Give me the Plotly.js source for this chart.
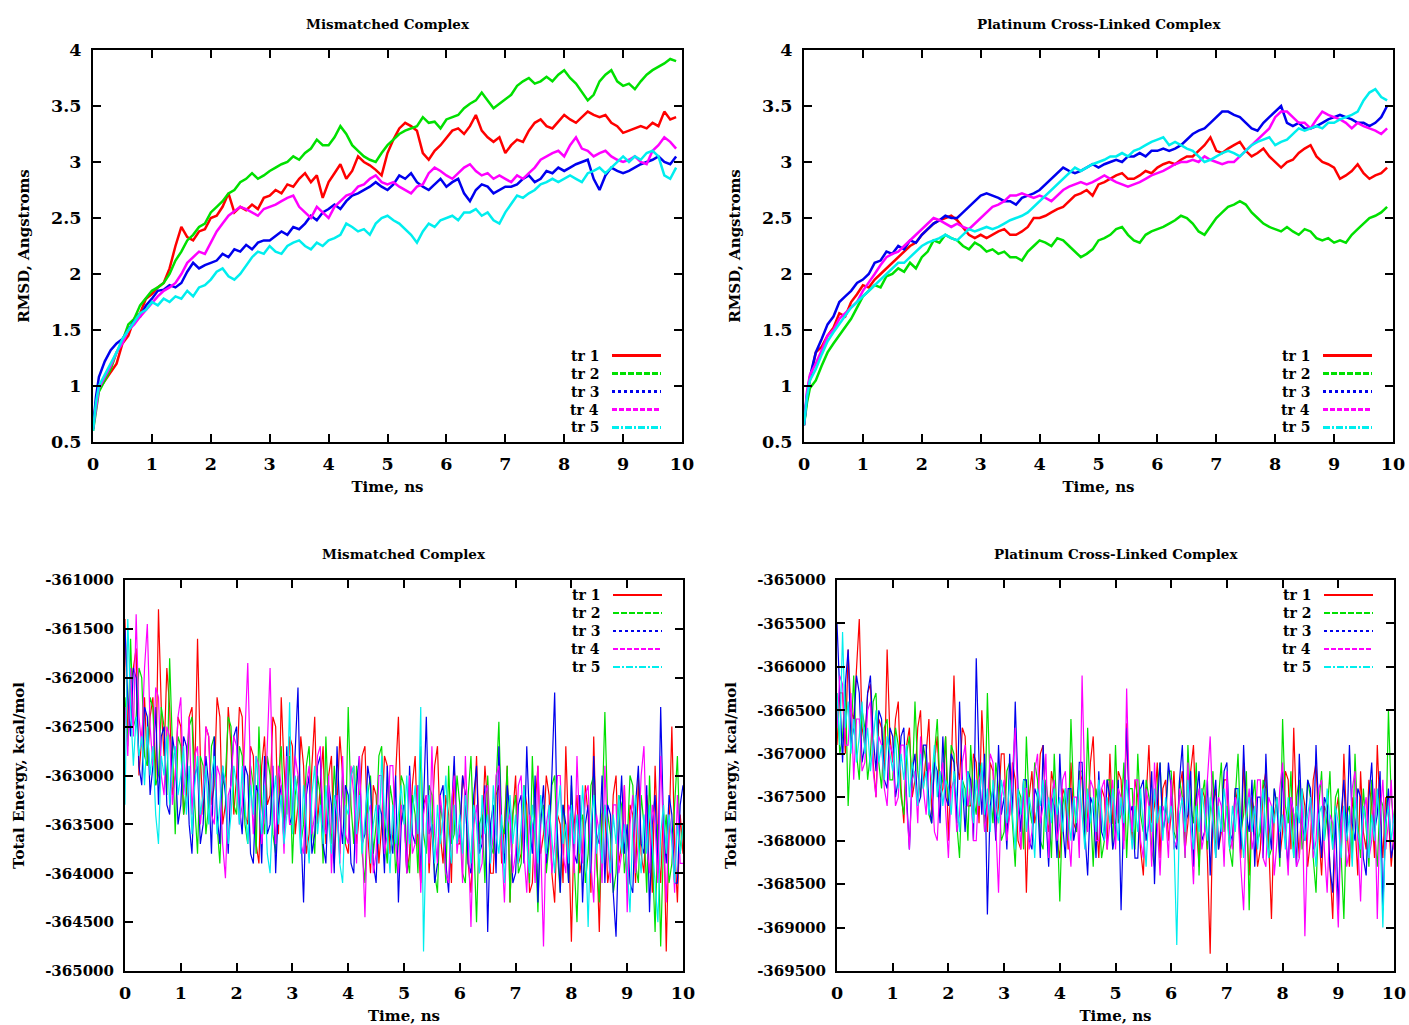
<!DOCTYPE html>
<html>
<head>
<meta charset="utf-8">
<script src="https://cdn.plot.ly/plotly-3.0.1.min.js"></script>
<style>html,body{margin:0;padding:0;background:#fff;}#chart{width:1409px;height:1025px;}</style>
</head>
<body>
<div id="chart"></div>
<script>
// ---------------- DATA ----------------
const SERIES_NAMES = ["tr 1", "tr 2", "tr 3", "tr 4", "tr 5"];
const PANEL_TITLES = ["Mismatched Complex", "Platinum Cross-Linked Complex", "Mismatched Complex", "Platinum Cross-Linked Complex"];
const X_TITLE = "Time, ns";
const Y_TITLE_RMSD = "RMSD, Angstroms";
const Y_TITLE_ENERGY = "Total Energy, kcal/mol";

const X_TICKS = [0,1,2,3,4,5,6,7,8,9,10];
const RMSD_TICKS = [0.5,1,1.5,2,2.5,3,3.5,4];
const ENERGY_TICKS_MISMATCHED = [-365000,-364500,-364000,-363500,-363000,-362500,-362000,-361500,-361000];
const ENERGY_TICKS_PLATINUM = [-369500,-369000,-368500,-368000,-367500,-367000,-366500,-366000,-365500,-365000];

const TIME_RMSD = [0,0.05,
0.1,0.2,0.3,0.4,0.5,0.6,0.7,0.8,0.9,1.0,
1.1,1.2,1.3,1.4,1.5,1.6,1.7,1.8,1.9,2.0,
2.1,2.2,2.3,2.4,2.5,2.6,2.7,2.8,2.9,3.0,
3.1,3.2,3.3,3.4,3.5,3.6,3.7,3.8,3.9,4.0,
4.1,4.2,4.3,4.4,4.5,4.6,4.7,4.8,4.9,5.0,
5.1,5.2,5.3,5.4,5.5,5.6,5.7,5.8,5.9,6.0,
6.1,6.2,6.3,6.4,6.5,6.6,6.7,6.8,6.9,7.0,
7.1,7.2,7.3,7.4,7.5,7.6,7.7,7.8,7.9,8.0,
8.1,8.2,8.3,8.4,8.5,8.6,8.7,8.8,8.9,9.0,
9.1,9.2,9.3,9.4,9.5,9.6,9.7,9.8,9.9];

const TIME_ENERGY = [
0,0.05,0.1,0.15,0.2,0.25,0.3,0.35,0.4,0.45,0.5,0.55,0.6,0.65,0.7,0.75,0.8,0.85,0.9,0.95,
1.0,1.05,1.1,1.15,1.2,1.25,1.3,1.35,1.4,1.45,1.5,1.55,1.6,1.65,1.7,1.75,1.8,1.85,1.9,1.95,
2.0,2.05,2.1,2.15,2.2,2.25,2.3,2.35,2.4,2.45,2.5,2.55,2.6,2.65,2.7,2.75,2.8,2.85,2.9,2.95,
3.0,3.05,3.1,3.15,3.2,3.25,3.3,3.35,3.4,3.45,3.5,3.55,3.6,3.65,3.7,3.75,3.8,3.85,3.9,3.95,
4.0,4.05,4.1,4.15,4.2,4.25,4.3,4.35,4.4,4.45,4.5,4.55,4.6,4.65,4.7,4.75,4.8,4.85,4.9,4.95,
5.0,5.05,5.1,5.15,5.2,5.25,5.3,5.35,5.4,5.45,5.5,5.55,5.6,5.65,5.7,5.75,5.8,5.85,5.9,5.95,
6.0,6.05,6.1,6.15,6.2,6.25,6.3,6.35,6.4,6.45,6.5,6.55,6.6,6.65,6.7,6.75,6.8,6.85,6.9,6.95,
7.0,7.05,7.1,7.15,7.2,7.25,7.3,7.35,7.4,7.45,7.5,7.55,7.6,7.65,7.7,7.75,7.8,7.85,7.9,7.95,
8.0,8.05,8.1,8.15,8.2,8.25,8.3,8.35,8.4,8.45,8.5,8.55,8.6,8.65,8.7,8.75,8.8,8.85,8.9,8.95,
9.0,9.05,9.1,9.15,9.2,9.25,9.3,9.35,9.4,9.45,9.5,9.55,9.6,9.65,9.7,9.75,9.8,9.85,9.9,9.95,
10.0];

// RMSD, Mismatched Complex
const RMSD_MIS_TR1 = [0.62,0.85,
0.97,1.05,1.12,1.2,1.38,1.45,1.6,1.65,1.78,1.82,
1.88,1.92,2.05,2.25,2.42,2.33,2.3,2.38,2.4,2.5,
2.52,2.6,2.72,2.55,2.6,2.57,2.62,2.58,2.68,2.7,
2.75,2.72,2.8,2.78,2.85,2.9,2.82,2.88,2.68,2.82,
2.9,2.98,2.85,2.92,3.05,3.0,2.97,2.93,2.88,3.08,
3.2,3.3,3.35,3.32,3.28,3.08,3.02,3.1,3.15,3.22,
3.28,3.3,3.25,3.32,3.42,3.28,3.22,3.18,3.22,3.08,
3.15,3.2,3.18,3.28,3.35,3.38,3.32,3.3,3.36,3.42,
3.38,3.35,3.4,3.45,3.42,3.4,3.42,3.35,3.32,3.26,
3.28,3.3,3.32,3.3,3.35,3.32,3.45,3.38,3.4];
const RMSD_MIS_TR2 = [0.6,0.8,
0.95,1.05,1.15,1.3,1.4,1.55,1.6,1.72,1.78,1.85,
1.88,1.92,2.0,2.12,2.2,2.3,2.35,2.42,2.45,2.55,
2.6,2.65,2.72,2.75,2.82,2.85,2.9,2.85,2.88,2.92,
2.95,2.98,3.0,3.05,3.02,3.08,3.12,3.2,3.15,3.15,
3.22,3.32,3.25,3.15,3.1,3.05,3.02,3.0,3.08,3.15,
3.2,3.25,3.28,3.3,3.32,3.4,3.35,3.36,3.3,3.38,
3.4,3.42,3.48,3.52,3.55,3.62,3.55,3.48,3.52,3.56,
3.6,3.68,3.72,3.75,3.7,3.72,3.76,3.72,3.78,3.82,
3.75,3.7,3.62,3.55,3.6,3.72,3.78,3.82,3.72,3.68,
3.7,3.65,3.72,3.78,3.82,3.85,3.88,3.92,3.9];
const RMSD_MIS_TR3 = [0.62,0.9,
1.08,1.22,1.32,1.38,1.42,1.5,1.58,1.62,1.72,1.78,
1.85,1.86,1.9,1.88,1.92,2.02,2.1,2.05,2.08,2.1,
2.12,2.18,2.15,2.22,2.2,2.26,2.22,2.28,2.3,2.3,
2.34,2.38,2.35,2.42,2.4,2.45,2.52,2.48,2.55,2.58,
2.62,2.58,2.65,2.7,2.72,2.75,2.78,2.82,2.78,2.75,
2.8,2.88,2.85,2.9,2.82,2.78,2.75,2.8,2.85,2.78,
2.82,2.85,2.72,2.65,2.75,2.8,2.78,2.72,2.75,2.78,
2.78,2.8,2.85,2.88,2.82,2.85,2.92,2.9,2.95,2.92,
2.95,2.98,3.0,3.02,2.85,2.75,2.88,2.95,2.92,2.9,
2.92,2.95,2.98,3.0,3.02,3.05,3.0,2.98,3.05];
const RMSD_MIS_TR4 = [0.62,0.82,
0.98,1.08,1.18,1.3,1.38,1.5,1.55,1.62,1.68,1.75,
1.8,1.85,1.88,1.92,2.0,2.1,2.15,2.2,2.18,2.28,
2.38,2.45,2.52,2.56,2.6,2.58,2.55,2.52,2.58,2.6,
2.62,2.65,2.68,2.7,2.6,2.55,2.5,2.6,2.55,2.5,
2.6,2.65,2.7,2.72,2.78,2.8,2.85,2.88,2.82,2.8,
2.82,2.78,2.75,2.72,2.78,2.8,2.9,2.95,2.92,2.88,
2.85,2.9,2.95,2.98,2.92,2.88,2.9,2.85,2.88,2.85,
2.82,2.88,2.85,2.9,2.95,3.02,3.05,3.08,3.1,3.05,
3.15,3.22,3.12,3.1,3.05,3.08,3.1,3.05,3.02,3.0,
3.02,3.05,3.0,2.98,3.1,3.15,3.22,3.18,3.12];
const RMSD_MIS_TR5 = [0.6,0.85,
1.0,1.1,1.2,1.3,1.42,1.5,1.58,1.65,1.68,1.75,
1.72,1.78,1.75,1.8,1.78,1.85,1.8,1.88,1.9,1.95,
2.02,2.05,1.98,1.95,2.0,2.08,2.15,2.2,2.18,2.25,
2.2,2.18,2.25,2.28,2.3,2.25,2.22,2.28,2.25,2.3,
2.32,2.35,2.45,2.42,2.38,2.4,2.35,2.45,2.5,2.52,
2.48,2.45,2.4,2.35,2.28,2.38,2.45,2.42,2.48,2.5,
2.52,2.48,2.55,2.55,2.58,2.52,2.55,2.48,2.45,2.55,
2.62,2.7,2.68,2.72,2.75,2.8,2.82,2.85,2.82,2.85,
2.88,2.85,2.82,2.9,2.92,2.95,2.9,2.95,3.0,3.05,
3.0,3.05,3.02,3.08,3.1,3.05,2.88,2.85,2.95];

// RMSD, Platinum Cross-Linked Complex
const RMSD_PT_TR1 = [0.65,0.9,
1.05,1.3,1.35,1.45,1.52,1.65,1.62,1.75,1.82,1.9,
1.88,1.95,2.0,2.05,2.1,2.15,2.2,2.25,2.28,2.35,
2.4,2.45,2.48,2.5,2.52,2.48,2.42,2.35,2.32,2.35,
2.32,2.35,2.38,2.4,2.35,2.35,2.38,2.42,2.5,2.5,
2.52,2.55,2.58,2.6,2.65,2.7,2.72,2.75,2.7,2.8,
2.82,2.85,2.88,2.9,2.85,2.85,2.88,2.92,2.9,2.95,
2.98,3.0,2.98,3.02,3.05,3.05,3.1,3.15,3.22,3.1,
3.08,3.12,3.15,3.18,3.1,3.05,3.08,3.12,3.05,3.0,
2.95,3.0,3.02,3.08,3.12,3.15,3.05,3.0,2.98,2.95,
2.85,2.88,2.92,2.98,2.9,2.85,2.88,2.9,2.95];
const RMSD_PT_TR2 = [0.65,0.85,
0.98,1.05,1.18,1.3,1.38,1.45,1.52,1.6,1.7,1.8,
1.85,1.9,1.88,1.98,2.0,2.05,2.02,2.1,2.05,2.15,
2.2,2.3,2.28,2.35,2.32,2.3,2.25,2.22,2.28,2.25,
2.2,2.22,2.18,2.2,2.15,2.15,2.12,2.2,2.25,2.3,
2.28,2.25,2.32,2.3,2.25,2.2,2.15,2.18,2.22,2.3,
2.32,2.35,2.4,2.42,2.35,2.3,2.28,2.35,2.38,2.4,
2.42,2.45,2.48,2.52,2.5,2.45,2.38,2.35,2.42,2.5,
2.55,2.6,2.62,2.65,2.62,2.55,2.5,2.45,2.42,2.4,
2.38,2.42,2.38,2.35,2.4,2.38,2.32,2.3,2.32,2.28,
2.3,2.28,2.35,2.4,2.45,2.5,2.52,2.55,2.6];
const RMSD_PT_TR3 = [0.65,0.92,
1.08,1.3,1.42,1.55,1.62,1.75,1.8,1.85,1.92,1.95,
2.0,2.1,2.12,2.2,2.18,2.25,2.22,2.3,2.28,2.35,
2.4,2.45,2.48,2.52,2.5,2.5,2.55,2.6,2.65,2.7,
2.72,2.7,2.68,2.65,2.65,2.62,2.68,2.7,2.72,2.75,
2.8,2.85,2.9,2.95,2.92,2.9,2.92,2.95,2.98,2.95,
2.98,3.0,3.02,3.0,3.05,3.05,3.08,3.05,3.1,3.1,
3.12,3.1,3.12,3.15,3.2,3.25,3.28,3.3,3.35,3.4,
3.45,3.45,3.42,3.4,3.35,3.3,3.28,3.35,3.4,3.45,
3.5,3.35,3.32,3.35,3.3,3.3,3.32,3.35,3.38,3.4,
3.42,3.4,3.38,3.35,3.35,3.32,3.35,3.4,3.5];
const RMSD_PT_TR4 = [0.65,0.95,
1.1,1.2,1.32,1.45,1.5,1.6,1.65,1.7,1.75,1.85,
1.92,2.0,2.08,2.15,2.18,2.2,2.25,2.3,2.35,2.4,
2.45,2.5,2.48,2.45,2.42,2.45,2.42,2.4,2.45,2.5,
2.55,2.6,2.62,2.65,2.7,2.7,2.72,2.7,2.68,2.7,
2.68,2.65,2.7,2.75,2.78,2.8,2.82,2.8,2.82,2.85,
2.88,2.85,2.82,2.8,2.78,2.8,2.82,2.85,2.88,2.9,
2.92,2.95,2.98,3.0,3.0,3.02,3.0,3.05,3.02,3.0,
2.98,3.0,3.0,3.05,3.1,3.15,3.2,3.25,3.3,3.4,
3.45,3.45,3.4,3.35,3.35,3.3,3.38,3.45,3.42,3.4,
3.38,3.35,3.3,3.35,3.32,3.3,3.28,3.25,3.3];
const RMSD_PT_TR5 = [0.65,0.9,
1.05,1.15,1.28,1.4,1.48,1.55,1.62,1.7,1.75,1.8,
1.85,1.9,1.95,2.0,2.05,2.1,2.1,2.15,2.2,2.25,
2.28,2.3,2.32,2.35,2.32,2.3,2.35,2.4,2.38,2.4,
2.42,2.4,2.42,2.45,2.48,2.5,2.52,2.55,2.6,2.65,
2.7,2.75,2.8,2.85,2.9,2.95,2.92,2.95,2.98,3.0,
3.02,3.05,3.05,3.08,3.05,3.1,3.12,3.15,3.18,3.2,
3.22,3.15,3.18,3.15,3.12,3.1,3.05,3.0,3.02,3.05,
3.08,3.1,3.08,3.05,3.1,3.15,3.18,3.2,3.22,3.15,
3.18,3.2,3.25,3.3,3.28,3.3,3.32,3.3,3.35,3.35,
3.38,3.4,3.42,3.45,3.55,3.62,3.65,3.58,3.55];

// Total energy, Mismatched Complex
const EN_MIS_TR1 = [
-361400,-362600,-362100,-361900,-361700,-363000,-362600,-362200,-362900,-362400,-362200,-363100,-361300,-362300,-362800,-361900,-362300,-363200,-363000,-362400,
-362500,-363400,-363200,-362400,-362300,-363000,-361600,-362800,-363400,-362500,-362600,-363300,-363100,-362200,-362400,-363500,-363300,-362300,-362700,-363400,
-363000,-362300,-362400,-363400,-363500,-362700,-362800,-363700,-363900,-362900,-362600,-363300,-363200,-362400,-362500,-363600,-362200,-362900,-363400,-362600,
-362700,-363600,-363300,-362600,-362900,-363800,-363600,-362900,-362400,-363500,-363100,-362700,-363700,-363000,-362800,-363900,-363300,-362600,-363000,-363700,
-363800,-363000,-362900,-363700,-363400,-362800,-362700,-363600,-364000,-363100,-363200,-363900,-363500,-362800,-362900,-363800,-363600,-363000,-362400,-363500,
-363300,-364000,-363800,-363100,-362800,-363700,-364100,-363300,-363200,-364000,-363500,-362900,-362700,-363600,-363900,-363200,-363400,-364100,-362900,-363700,
-363700,-363000,-363200,-363900,-364200,-363400,-362800,-363700,-363600,-362900,-363300,-364000,-364000,-363200,-363100,-363900,-363500,-362900,-364300,-363400,
-363000,-363900,-363800,-363100,-363300,-364200,-364100,-363300,-362900,-363800,-363600,-363000,-363200,-364000,-364300,-363400,-363500,-364100,-362700,-363600,
-364700,-363500,-363200,-364000,-363800,-363100,-363400,-364200,-362600,-363700,-364600,-363400,-363300,-364100,-363900,-363200,-363000,-363900,-363700,-363100,
-364200,-363300,-363400,-364100,-363000,-363800,-364000,-363200,-363500,-364200,-362900,-363700,-364100,-363300,-364800,-363600,-362500,-363700,-364300,-363400,
-363800];
const EN_MIS_TR2 = [
-362200,-362700,-361600,-362500,-362400,-361900,-362000,-362800,-362900,-362200,-362300,-363100,-363000,-362300,-362500,-363200,-361800,-362700,-363600,-362600,
-362700,-363400,-363100,-362500,-362400,-363300,-363800,-362800,-362900,-363600,-363300,-362700,-362600,-363500,-363900,-363100,-363000,-362400,-362500,-363300,
-363400,-362700,-362800,-363500,-363700,-362900,-363100,-363800,-362500,-363300,-363600,-362800,-363000,-363600,-363800,-363000,-362700,-363500,-363300,-362800,
-363900,-363200,-363000,-363700,-363500,-362900,-362700,-363500,-363800,-363000,-363200,-363900,-362600,-363400,-363700,-362900,-363400,-363800,-363000,-363700,
-362300,-363300,-363700,-362900,-363200,-363800,-364100,-363200,-363000,-363800,-363500,-362800,-362700,-363600,-363900,-363100,-363300,-364000,-363700,-363000,
-363100,-363800,-364000,-363200,-363400,-364000,-362700,-363600,-363800,-363100,-363200,-364000,-364200,-363300,-363500,-364100,-362900,-363700,-363600,-363000,
-363300,-364000,-364100,-363200,-362800,-363700,-364500,-363500,-363400,-364100,-363000,-363700,-363800,-363100,-362450,-363500,-363600,-362900,-364300,-363400,
-363200,-364000,-363900,-363100,-363500,-364100,-362800,-363600,-364400,-363400,-363300,-364000,-363700,-363100,-363000,-363800,-364200,-363300,-363600,-364100,
-363100,-363900,-364500,-363500,-363400,-364100,-363800,-363100,-363000,-363900,-364300,-363400,-362350,-363400,-363600,-364200,-364000,-363200,-363300,-364000,
-363700,-363000,-363100,-363900,-364100,-363200,-363500,-364200,-363000,-363800,-364600,-363500,-364750,-363700,-363400,-364100,-363900,-363300,-362800,-363800,
-363500];
const EN_MIS_TR3 = [
-361500,-362200,-362600,-361900,-362000,-362900,-363100,-362300,-362400,-363200,-362900,-362300,-363300,-362600,-362500,-363300,-363400,-362600,-362800,-363500,
-363300,-362600,-362700,-363500,-363800,-363000,-362900,-363700,-363500,-362800,-363100,-363800,-362600,-363400,-363700,-362900,-363200,-363800,-363000,-362600,
-362500,-363300,-363600,-362900,-363000,-363800,-363900,-363100,-363200,-363900,-362800,-363600,-363500,-362900,-364000,-363300,-363100,-363700,-362700,-363500,
-363400,-362800,-362100,-363500,-364300,-363200,-363000,-363800,-363600,-362900,-362800,-363700,-363900,-363100,-363300,-364000,-362700,-363400,-363700,-363100,
-363200,-363900,-364000,-363100,-362800,-363700,-363600,-362900,-363100,-363900,-364100,-363300,-363400,-364000,-362900,-363600,-363800,-363000,-364300,-363500,
-363300,-364000,-362900,-363600,-363700,-363100,-364000,-363300,-362400,-363600,-363500,-364100,-363900,-363200,-363100,-363900,-364200,-363400,-362800,-363700,
-363600,-363000,-363200,-363900,-364000,-363200,-362900,-363800,-363700,-363100,-364600,-363500,-363300,-364000,-362700,-363600,-363900,-363100,-363400,-364100,
-364000,-363300,-363200,-363900,-362700,-363500,-363800,-363000,-364300,-363500,-363100,-363900,-363600,-363000,-362150,-363600,-364200,-363300,-363500,-364100,
-363000,-363800,-363900,-363200,-364300,-363500,-363300,-364000,-362800,-363600,-363700,-363000,-364100,-363300,-363400,-364200,-364650,-363600,-363000,-363800,
-363500,-364100,-364200,-363300,-362900,-363700,-363800,-363100,-364400,-363500,-363200,-364000,-362300,-363500,-363900,-363200,-363400,-364100,-364100,-363300,
-363100];
const EN_MIS_TR4 = [
-362300,-362800,-361900,-362600,-361350,-362400,-362700,-361900,-361450,-362500,-362900,-362100,-362200,-363000,-363200,-362500,-362600,-363300,-363000,-362400,
-362200,-363200,-362900,-362400,-363400,-362800,-362700,-363500,-363200,-362500,-362600,-363400,-363500,-362900,-363000,-363700,-364050,-363200,-363100,-362600,
-362700,-363500,-363300,-362600,-361850,-363000,-363600,-362800,-362900,-363700,-363400,-362700,-361900,-363200,-363700,-362900,-363100,-363800,-362800,-363500,
-363500,-362800,-363000,-363700,-363800,-363100,-362900,-363600,-363400,-362800,-362700,-363500,-363600,-363000,-364000,-363300,-363200,-363900,-362800,-363600,
-363700,-362900,-363200,-363900,-362800,-363600,-364450,-363400,-363300,-364000,-363800,-363000,-363000,-363800,-363600,-362900,-362900,-363700,-364000,-363300,
-363400,-364000,-363000,-363800,-363700,-363100,-364200,-363400,-363200,-363900,-362700,-363600,-363900,-363200,-363500,-364000,-364100,-363300,-363000,-363800,
-363500,-364100,-362800,-363600,-364550,-363500,-363300,-364000,-363900,-363200,-363100,-363900,-363600,-363000,-362900,-363700,-364300,-363500,-363400,-364000,
-363800,-363100,-363000,-363800,-364200,-363400,-363500,-364100,-362900,-363700,-364750,-363500,-363300,-364000,-363700,-363000,-363000,-363800,-364000,-363300,
-363400,-364000,-362800,-363600,-363900,-363200,-363100,-363900,-364300,-363400,-363600,-364100,-362900,-363700,-364100,-363300,-363300,-364000,-363800,-363100,
-364400,-363500,-363200,-364000,-363700,-363000,-362700,-363700,-364000,-363300,-363500,-364100,-362800,-363600,-364300,-363400,-363600,-364200,-363200,-363900,
-363900];
const EN_MIS_TR5 = [
-363300,-361400,-362300,-362900,-362400,-362800,-362600,-363100,-362500,-363000,-362700,-363400,-363700,-362800,-363000,-362600,-363300,-362900,-362700,-363200,
-363000,-362700,-363400,-362900,-363600,-363100,-362800,-363400,-363200,-362900,-363500,-363000,-362800,-363600,-363300,-362900,-363100,-363700,-363400,-362900,
-363100,-363500,-362900,-363300,-363700,-363100,-363400,-362800,-363200,-363600,-363100,-363800,-364000,-363300,-363000,-363500,-363200,-363700,-363400,-362250,
-363600,-363000,-363300,-363800,-363100,-363500,-363900,-363200,-362900,-363600,-363300,-363700,-363100,-363500,-363800,-363200,-363400,-363900,-364100,-363300,
-363400,-363000,-362900,-363600,-363200,-363800,-363400,-363100,-363900,-363500,-363300,-363700,-362800,-363400,-363600,-364000,-363300,-363700,-363400,-363100,
-363500,-363000,-363700,-363400,-363100,-363600,-362300,-364800,-363500,-363200,-363600,-363900,-363300,-363700,-363400,-363000,-363600,-363900,-363300,-363700,
-363400,-363800,-363200,-363600,-363900,-363300,-363500,-364000,-363200,-363600,-363400,-363900,-363100,-363600,-363800,-363400,-364100,-363500,-363200,-363700,
-363400,-363900,-363500,-363100,-363700,-364000,-363300,-363600,-363900,-363200,-363500,-363800,-363300,-363700,-364000,-363400,-363100,-363700,-363500,-363900,
-363300,-363700,-363400,-363800,-363100,-363600,-364550,-363500,-363200,-363800,-363500,-363900,-363300,-363600,-364000,-363400,-363700,-363200,-363800,-363500,
-363900,-364400,-363500,-363200,-363700,-364000,-363400,-363800,-363300,-363700,-364000,-364500,-363600,-363300,-363800,-363400,-363700,-364100,-363500,-363800,
-363500];

// Total energy, Platinum Cross-Linked Complex
const EN_PT_TR1 = [
-366900,-366300,-366300,-367000,-365800,-366500,-366600,-366000,-365450,-366700,-366900,-366300,-366200,-367100,-367500,-366600,-366700,-367300,-365800,-366800,
-367100,-366600,-366400,-367400,-367800,-366900,-366700,-367500,-367300,-366700,-366500,-367400,-367000,-366600,-367700,-367100,-366800,-367500,-367400,-366800,
-368000,-367200,-366100,-367100,-367300,-366700,-366800,-367600,-367600,-367000,-367100,-367800,-366500,-367300,-367900,-367100,-367200,-367900,-367600,-367000,
-367000,-367900,-367700,-367100,-367300,-368000,-368100,-367300,-368600,-367500,-367200,-367800,-367600,-367000,-366900,-367700,-367900,-367200,-367400,-368000,
-368200,-367400,-367500,-368100,-367100,-367800,-367900,-367200,-367300,-368000,-367700,-367100,-366800,-367700,-368200,-367400,-367500,-368100,-367000,-367800,
-367800,-367200,-367300,-368000,-366650,-367600,-368000,-367300,-367500,-368100,-368400,-367500,-366900,-367800,-367600,-367100,-368200,-367400,-367300,-368000,
-367700,-367200,-368000,-367400,-367200,-368100,-367800,-367200,-366900,-367800,-368300,-367400,-367500,-368200,-369300,-367600,-367400,-368100,-367900,-367300,
-367300,-368100,-368000,-367400,-367600,-368200,-367100,-367800,-368400,-367500,-367700,-368300,-368100,-367400,-367200,-368000,-368900,-367700,-367500,-368200,
-367900,-367200,-367300,-368100,-366700,-367700,-368200,-367400,-367600,-368300,-368000,-367300,-367100,-367900,-368400,-367600,-367700,-368300,-368900,-367700,
-367500,-368200,-367000,-367800,-368300,-367500,-367800,-368400,-367200,-367900,-368100,-367300,-367600,-368200,-366900,-367700,-368200,-367500,-367700,-368300,
-367900];
const EN_PT_TR2 = [
-366300,-367000,-366800,-366200,-367600,-366800,-366100,-367000,-367300,-366500,-366700,-367300,-367000,-366400,-366300,-367100,-367400,-366700,-366600,-367300,
-367300,-366700,-366900,-367500,-367700,-367000,-366800,-367400,-366400,-367200,-367500,-366900,-367100,-367700,-367800,-367000,-366600,-367400,-367300,-366800,
-367600,-366900,-367000,-367800,-368200,-367300,-367400,-368000,-366900,-367500,-367700,-367100,-367200,-367900,-366300,-367400,-367800,-367100,-367400,-368000,
-367900,-367200,-367100,-367800,-368300,-367400,-367500,-368100,-366800,-367600,-367800,-367100,-367300,-368000,-368100,-367300,-367600,-368200,-367000,-367700,
-368700,-367600,-367400,-368000,-366600,-367500,-367900,-367200,-367200,-368000,-366700,-367600,-368300,-367400,-367600,-368200,-368000,-367300,-367300,-368100,
-366900,-367800,-367700,-367100,-368200,-367400,-367400,-368100,-367000,-367700,-367900,-367300,-367500,-368100,-368300,-367400,-367100,-367900,-367700,-367200,
-367200,-367900,-368000,-367300,-367500,-368200,-366900,-367600,-367800,-367100,-368400,-367500,-367300,-368100,-367700,-367200,-368200,-367500,-367100,-367900,
-367600,-368100,-368300,-367500,-367000,-367900,-367700,-367200,-368800,-367600,-367300,-368000,-367900,-367300,-367400,-368200,-368100,-367400,-367600,-368300,
-366600,-367600,-367800,-367200,-368200,-367500,-367300,-368100,-367900,-367300,-367500,-368200,-368600,-367600,-367200,-368000,-367700,-367200,-368100,-367500,
-367400,-368100,-368900,-367700,-367600,-368200,-367000,-367800,-368200,-367400,-367800,-368300,-367300,-367900,-368300,-367500,-367600,-368100,-366500,-367500,
-367800];
const EN_PT_TR3 = [
-365500,-366400,-367100,-366200,-365800,-366900,-366700,-366100,-366300,-367100,-366900,-366300,-366100,-366800,-367200,-366500,-366600,-367300,-367400,-366700,
-366800,-367500,-367300,-366800,-366700,-367500,-368100,-367200,-367000,-367600,-367500,-366900,-366900,-367600,-367800,-367100,-367200,-367800,-366800,-367500,
-367600,-367000,-367100,-367800,-366400,-367300,-367900,-367200,-367300,-368000,-365900,-367100,-367700,-367000,-368850,-367600,-367400,-368000,-366900,-367700,
-367500,-368100,-367000,-367700,-366400,-367400,-367900,-367300,-367300,-368000,-368100,-367400,-367500,-368200,-366900,-367700,-368300,-367500,-367600,-368200,
-367000,-367800,-368200,-367400,-367400,-368000,-367800,-367100,-367100,-367900,-368400,-367500,-367600,-368200,-367200,-367900,-368000,-367300,-367500,-368100,
-367900,-367300,-368800,-367600,-366700,-367700,-367600,-368200,-368200,-367400,-367300,-368000,-367800,-367200,-368500,-367600,-367100,-367900,-367700,-367100,
-367400,-368000,-368100,-367300,-366900,-367800,-367700,-367200,-368300,-367500,-367200,-368000,-367900,-367300,-368400,-367600,-367300,-368100,-367800,-367200,
-367100,-367900,-368000,-367400,-367400,-368100,-366900,-367700,-367900,-367300,-368300,-367500,-367500,-368200,-367000,-367800,-368100,-367400,-367600,-368200,
-367200,-367900,-368300,-367500,-367700,-368300,-367000,-367800,-368000,-367300,-367400,-368100,-366900,-367700,-368200,-367500,-367600,-368300,-368600,-367700,
-368800,-367700,-367300,-368000,-366900,-367800,-368000,-367400,-367500,-368200,-368400,-367500,-367100,-367900,-367700,-367200,-368800,-367800,-367400,-368200,
-368000];
const EN_PT_TR4 = [
-366700,-366100,-366200,-366900,-366900,-366300,-367300,-366600,-366600,-367200,-367100,-366500,-366400,-367200,-367500,-366800,-366900,-367400,-367600,-366900,
-367000,-367600,-367500,-366900,-366900,-367600,-368100,-367300,-367200,-367800,-366800,-367400,-367700,-367100,-367300,-367900,-368000,-367300,-367100,-367700,
-368200,-367400,-367300,-367900,-367700,-367100,-366900,-367600,-367400,-368000,-368000,-367300,-367200,-367900,-367600,-367000,-367100,-367800,-368600,-367500,
-367300,-368000,-367700,-367200,-366700,-367600,-368100,-367400,-367400,-368100,-367900,-367200,-367000,-367800,-367600,-367000,-368200,-367500,-367300,-368000,
-367800,-367300,-367200,-367900,-368300,-367500,-367500,-368200,-366100,-367400,-367900,-367300,-367400,-368000,-368000,-367400,-367300,-368100,-367800,-367300,
-368100,-367400,-367500,-368100,-366250,-367500,-367900,-367300,-367300,-368000,-368200,-367400,-367600,-368300,-367100,-367800,-368400,-367600,-367700,-368200,
-367300,-368100,-368000,-367400,-367600,-368200,-367100,-367900,-368500,-367600,-367400,-368100,-367900,-367300,-366800,-367700,-368200,-367500,-367600,-368300,
-367200,-367900,-368100,-367500,-367700,-368300,-368800,-367700,-367400,-368100,-367900,-367300,-367300,-368200,-368300,-367500,-367600,-368400,-368000,-367400,
-367100,-367900,-368400,-367500,-367700,-368300,-368200,-367500,-369100,-367900,-367500,-368200,-368000,-367400,-367300,-368100,-368600,-367700,-367800,-368300,
-369000,-367800,-367600,-368300,-368100,-367400,-367200,-368000,-368700,-367700,-367500,-368200,-368000,-367400,-368900,-367700,-367300,-368100,-367800,-367300,
-368100];
const EN_PT_TR5 = [
-366300,-366900,-365600,-366700,-366400,-367000,-366600,-367100,-366800,-366400,-367000,-366700,-367200,-366800,-366500,-367100,-366900,-367300,-366800,-367000,
-367200,-366800,-367400,-367000,-367300,-366900,-367500,-367100,-367300,-367600,-367000,-367400,-367200,-367700,-367300,-366900,-367500,-367200,-367600,-367300,
-367400,-367700,-367200,-367500,-367900,-367300,-367600,-367200,-367500,-367800,-367300,-367600,-367100,-367700,-367400,-367900,-367300,-367600,-367800,-367300,
-367500,-367800,-367300,-367700,-368100,-367400,-367700,-367300,-367900,-367500,-367700,-368200,-367400,-367600,-367300,-367900,-367500,-367800,-367400,-367700,
-367500,-367900,-367400,-367700,-368000,-367500,-367800,-367300,-367700,-368100,-367400,-367800,-367500,-367900,-367300,-367700,-368000,-367500,-367800,-367400,
-367700,-368000,-367500,-367800,-367300,-367700,-368100,-367600,-367900,-367400,-367800,-368300,-367600,-367900,-367400,-367800,-367600,-368000,-367500,-367800,
-367600,-368000,-369200,-367700,-367500,-367900,-367300,-367800,-368100,-367600,-367900,-367400,-367700,-368000,-367500,-367800,-368200,-367600,-367900,-367400,
-367700,-368100,-367600,-367900,-367400,-367800,-368200,-367700,-367500,-367900,-367600,-368100,-367700,-367400,-367900,-368200,-367600,-367800,-367500,-367900,
-367700,-368100,-367500,-367900,-368200,-367600,-367800,-367400,-368000,-367700,-367500,-367900,-368300,-367700,-367600,-368000,-367400,-367800,-368100,-367600,
-367800,-368200,-367600,-368000,-367700,-368300,-367500,-367900,-368100,-367600,-367800,-368200,-367700,-368000,-367400,-367900,-369000,-367800,-367600,-368000,
-367700];

// ---------------- STYLE / LAYOUT ----------------
const W = 1409, H = 1025;
const FONT = "DejaVu Serif";
const COLORS = ["#ff0000", "#00e000", "#0000ee", "#ff00ff", "#00eeee"];
const DASHES = ["solid", "6px,2px", "3px,3px", "5px,2px", "7px,2px,2px,2px"];
const px = v => v / W;
const py = v => 1 - v / H;

const panels = [
  {xa: "x",  ya: "y",  xs: [93, 682],  ys: [50, 442],  series: [RMSD_MIS_TR1, RMSD_MIS_TR2, RMSD_MIS_TR3, RMSD_MIS_TR4, RMSD_MIS_TR5], time: TIME_RMSD, lw: 2.5, legendTop: 355.5, legendW: 3},
  {xa: "x2", ya: "y2", xs: [804, 1393], ys: [50, 442],  series: [RMSD_PT_TR1, RMSD_PT_TR2, RMSD_PT_TR3, RMSD_PT_TR4, RMSD_PT_TR5], time: TIME_RMSD, lw: 2.5, legendTop: 355.5, legendW: 3},
  {xa: "x3", ya: "y3", xs: [125, 683], ys: [580, 971], series: [EN_MIS_TR1, EN_MIS_TR2, EN_MIS_TR3, EN_MIS_TR4, EN_MIS_TR5], time: TIME_ENERGY, lw: 1.2, legendTop: 595, legendW: 2},
  {xa: "x4", ya: "y4", xs: [837, 1394], ys: [580, 971], series: [EN_PT_TR1, EN_PT_TR2, EN_PT_TR3, EN_PT_TR4, EN_PT_TR5], time: TIME_ENERGY, lw: 1.2, legendTop: 595, legendW: 2}
];

const traces = [];
panels.forEach(p => {
  p.series.forEach((ys, i) => {
    traces.push({
      type: "scatter", mode: "lines", x: p.time, y: ys, name: SERIES_NAMES[i],
      xaxis: p.xa, yaxis: p.ya, showlegend: false,
      line: {color: COLORS[i], width: p.lw}, hoverinfo: "skip"
    });
  });
});

const axisBase = {
  showline: true, linecolor: "#000", linewidth: 2, mirror: "ticks",
  ticks: "inside", ticklen: 8, tickwidth: 2, tickcolor: "#000",
  showgrid: false, zeroline: false, fixedrange: true
};
const titleFont = {family: FONT, size: 15, color: "#000", weight: "bold"};

const layout = {
  width: W, height: H, margin: {l: 0, r: 0, t: 0, b: 0},
  paper_bgcolor: "#fff", plot_bgcolor: "#fff", showlegend: false,
  font: {family: FONT, color: "#000", weight: "bold"},
  annotations: [], shapes: []
};

panels.forEach((p, k) => {
  const n = k === 0 ? "" : String(k + 1);
  const isRmsd = k < 2;
  layout["xaxis" + n] = Object.assign({}, axisBase, {
    domain: [px(p.xs[0]), px(p.xs[1])], anchor: p.ya, range: [0, 10],
    tickvals: X_TICKS, ticklabelstandoff: 5,
    tickfont: {family: FONT, size: 17.5, color: "#000", weight: "bold"},
    title: {text: X_TITLE, font: titleFont, standoff: isRmsd ? 8 : 9}
  });
  const ticks = isRmsd ? RMSD_TICKS : (k === 2 ? ENERGY_TICKS_MISMATCHED : ENERGY_TICKS_PLATINUM);
  layout["yaxis" + n] = Object.assign({}, axisBase, {
    domain: [py(p.ys[1]), py(p.ys[0])], anchor: p.xa,
    range: [ticks[0], ticks[ticks.length - 1]],
    tickvals: ticks, ticktext: ticks.map(v => String(v)), ticklabelstandoff: 6,
    tickfont: {family: FONT, size: isRmsd ? 17.5 : 15, color: "#000", weight: "bold"},
    title: {text: isRmsd ? Y_TITLE_RMSD : Y_TITLE_ENERGY, font: titleFont, standoff: isRmsd ? 18 : 17}
  });
  // panel title
  layout.annotations.push({
    xref: "paper", yref: "paper", x: px((p.xs[0] + p.xs[1]) / 2), y: py(p.ys[0] - 26),
    text: PANEL_TITLES[k], showarrow: false, xanchor: "center", yanchor: "middle",
    font: {family: FONT, size: 13.5, color: "#000", weight: "bold"}
  });
  // gnuplot-style key: label then line sample
  const textRight = p.xs[1] - 81, lineL = p.xs[1] - 70, lineR = p.xs[1] - 21;
  SERIES_NAMES.forEach((nm, i) => {
    const yy = p.legendTop + i * 18;
    layout.annotations.push({
      xref: "paper", yref: "paper", x: px(textRight), y: py(yy), text: nm,
      showarrow: false, xanchor: "right", yanchor: "middle",
      font: {family: FONT, size: 14, color: "#000", weight: "bold"}
    });
    layout.shapes.push({
      type: "line", xref: "paper", yref: "paper",
      x0: px(lineL), x1: px(lineR), y0: py(yy), y1: py(yy),
      line: {color: COLORS[i], width: p.legendW, dash: DASHES[i]}
    });
  });
});

Plotly.newPlot("chart", traces, layout, {staticPlot: true, displayModeBar: false});
</script>
</body>
</html>
